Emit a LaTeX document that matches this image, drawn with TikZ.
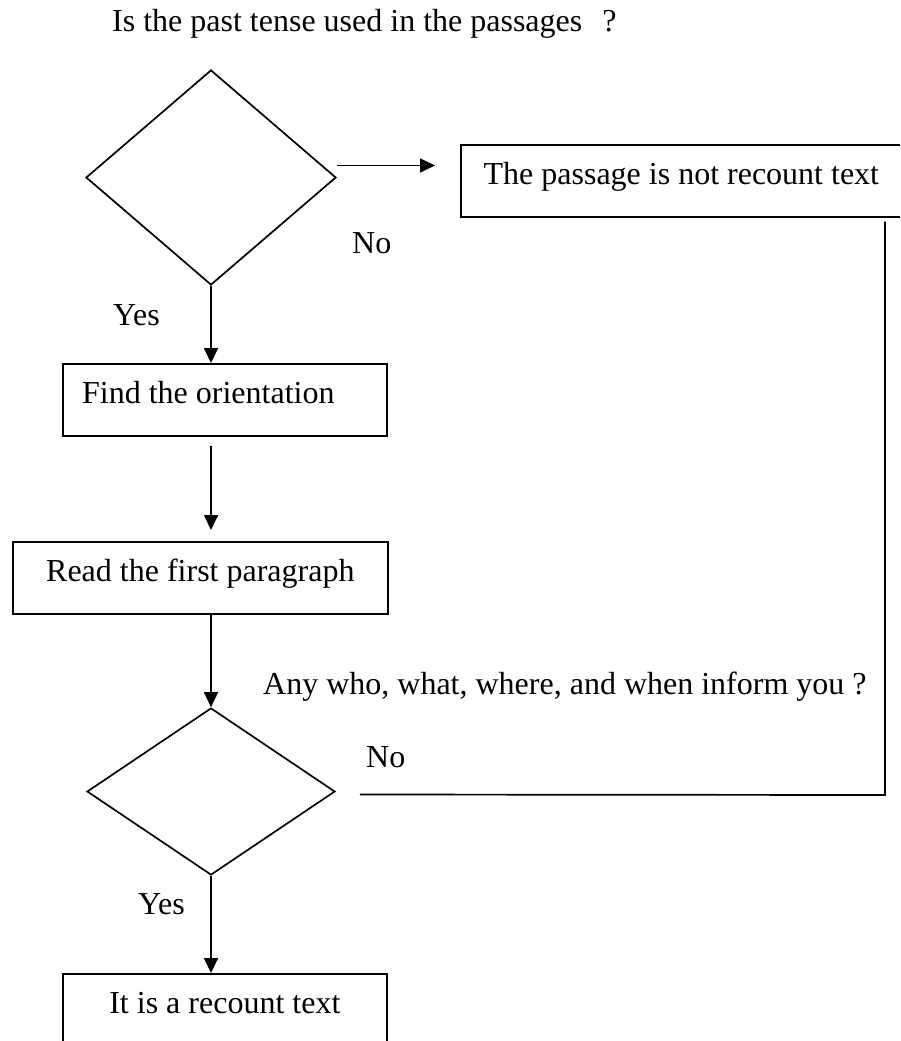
\documentclass[tikz,border=0pt]{standalone}
\usepackage{fontspec}
\setmainfont{Liberation Serif}
\usetikzlibrary{shapes.geometric,arrows.meta,calc}

\tikzset{
  every node/.style={font=\fontsize{32}{38}\selectfont, text=black},
  lbl/.style={inner sep=0pt, anchor=base west},
  boxst/.style={draw, rectangle, line width=1.7pt, minimum height=72pt,
                inner sep=0pt, text height=20pt, text depth=12pt, anchor=north west},
  decision/.style={draw, diamond, line width=1.7pt, inner sep=0pt},
  link/.style={line width=1.7pt},
  arr/.style={link, -{Triangle[length=15pt,width=14pt]}}
}

\begin{document}
\begin{tikzpicture}[x=1pt, y=-1pt]
  \useasboundingbox (0,0) rectangle (900,1041);
  \clip (0,0) rectangle (900,1041);

  % question above the first decision
  \node[lbl] (title) at (112,32) {Is the past tense used in the passages\hspace{20pt}?};

  % first decision and its "no" outcome
  \node[decision, minimum width=250pt, minimum height=215pt] (d1) at (211,177.5) {};
  \node[boxst, minimum width=441pt] (notrec) at (460,144) {The passage is not recount text};

  % steps for the "yes" branch (first label sits left in its box)
  \node[boxst, minimum width=324pt] (find) at (62,363) {Find the orientation\rule{33pt}{0pt}};
  \node[boxst, minimum width=375pt] (read) at (12,541) {Read the first paragraph};

  % second decision
  \node[decision, minimum width=248pt, minimum height=167pt] (d2) at (211,791.5) {};
  \node[boxst, minimum width=324pt] (recount) at (62,973) {It is a recount text};

  % branch labels
  \node[lbl] (yes1) at (113,325) {Yes};
  \node[lbl] (no1) at (352,253) {No};
  \node[lbl] (ask) at (263,694) {Any who, what, where, and when inform you ?};
  \node[lbl] (no2) at (366,767) {No};
  \node[lbl] (yes2) at (138,914) {Yes};

  % connectors
  \coordinate (s1) at ([yshift=12pt]d1.east);
  \draw[arr] (s1) -- ($(s1 -| notrec.west)+(-25,0)$);
  \draw[arr] (d1.south) -- (d1.south |- find.north);
  \draw[arr] ($(find.south -| d1.south)+(0,9)$) -- ($(read.north -| d1.south)+(0,-11)$);
  \draw[arr] (read.south -| d2.north) -- (d2.north);
  \draw[arr] (d2.south) -- (d2.south |- recount.north);

  \coordinate (s2) at ($(d2.east)+(24,3)$);
  \coordinate (corner) at (885,795);
  \draw[link] (s2) -- (corner) -- ($(corner |- notrec.south)+(0,4)$);
\end{tikzpicture}
\end{document}
